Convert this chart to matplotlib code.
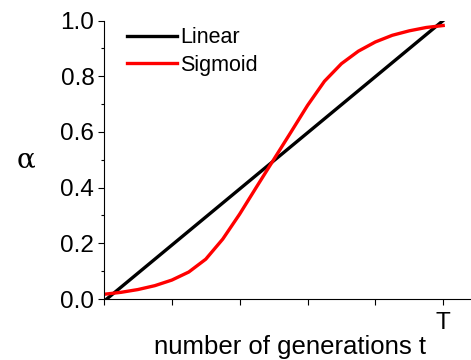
import numpy as np
import matplotlib
matplotlib.use("Agg")
import matplotlib.pyplot as plt
from matplotlib.ticker import MultipleLocator

plt.rcParams['font.family'] = ['Liberation Sans', 'DejaVu Sans']

# data (t in tick units, T = 5)
linear_t = [0.04, 5.0]
linear_alpha = [0.0, 1.0]

sigmoid_t = [0.0, 0.25, 0.5, 0.75, 1.0, 1.25, 1.5, 1.75, 2.0, 2.25, 2.5,
             2.75, 3.0, 3.25, 3.5, 3.75, 4.0, 4.25, 4.5, 4.75, 5.0]
sigmoid_alpha = [0.017, 0.024, 0.034, 0.048, 0.068, 0.097, 0.143, 0.215,
                 0.305, 0.403, 0.500, 0.597, 0.695, 0.782, 0.845, 0.890,
                 0.923, 0.947, 0.963, 0.975, 0.982]

x_ticks = [0, 1, 2, 3, 4, 5]
x_tick_labels = ["", "", "", "", "", "T"]


def main():
    fig = plt.figure(figsize=(4.71, 3.6), dpi=100)
    ax = fig.add_axes([0.2208, 0.1694, 0.7792, 0.7736])

    ax.plot(linear_t, linear_alpha, color="black", lw=2.4, label="Linear")
    ax.plot(sigmoid_t, sigmoid_alpha, color="red", lw=2.4, label="Sigmoid")

    ax.set_xlim(0, 5.41)
    ax.set_ylim(0, 1.0)
    ax.set_xticks(x_ticks)
    ax.set_xticklabels(x_tick_labels)
    ax.yaxis.set_major_locator(MultipleLocator(0.2))
    ax.yaxis.set_minor_locator(MultipleLocator(0.1))
    ax.yaxis.set_major_formatter(plt.FormatStrFormatter("%.1f"))

    for side in ("top", "right"):
        ax.spines[side].set_visible(False)
    for side in ("left", "bottom"):
        ax.spines[side].set_linewidth(0.8)

    ax.tick_params(axis="both", which="major", direction="out", length=4,
                   width=0.8, labelsize=17.5)
    ax.tick_params(axis="y", which="major", pad=3)
    ax.tick_params(axis="x", which="major", pad=5)
    ax.tick_params(axis="y", which="minor", direction="out", length=2.5, width=0.8)

    # axis labels placed directly in figure coordinates
    fig.text(0.615, 0.017, "number of generations t", fontsize=18.5,
             ha="center", va="baseline")
    fig.text(0.036, 0.555, "α", fontsize=20, family="DejaVu Serif",
             ha="left", va="center")

    ax.legend(loc="upper left", bbox_to_anchor=(0.063, 0.975), frameon=False,
              fontsize=15.5, handlelength=2.3, handletextpad=0.15,
              labelspacing=0.3, borderaxespad=0, borderpad=0)

    fig.savefig("out.png", dpi=100)


if __name__ == "__main__":
    main()
